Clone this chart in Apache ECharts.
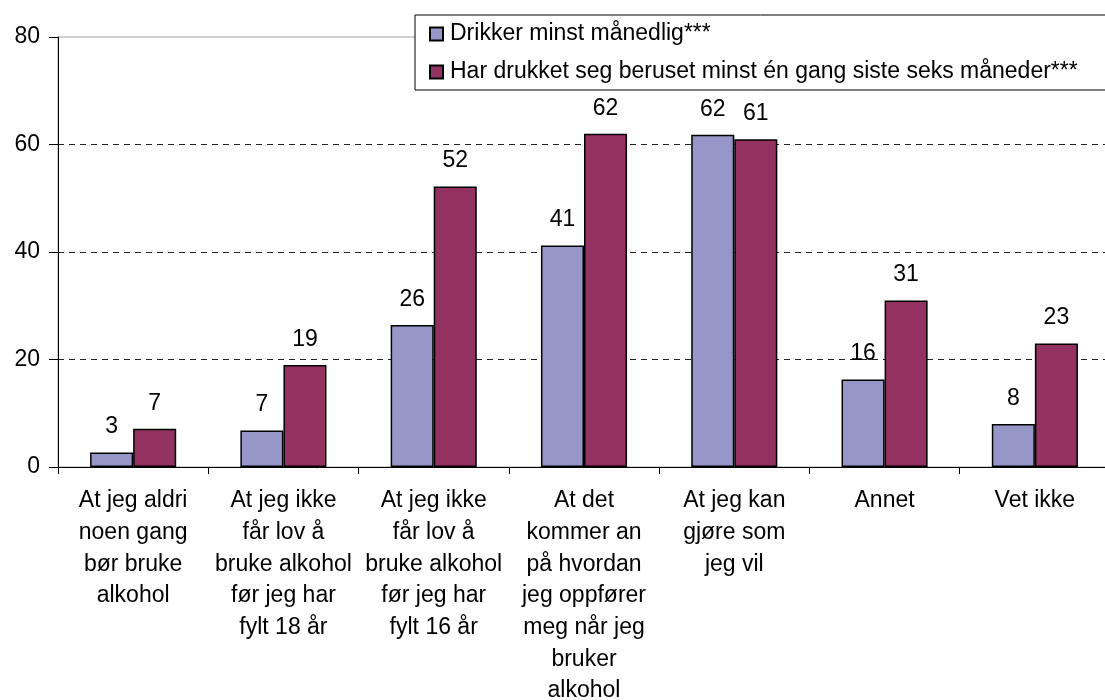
<!DOCTYPE html>
<html>
<head>
<meta charset="utf-8">
<script src="https://cdn.jsdelivr.net/npm/echarts@6/dist/echarts.min.js"></script>
<style>
html,body{margin:0;padding:0;background:#fff;}
#chart{width:1105px;height:700px;}
</style>
</head>
<body>
<div id="chart"></div>
<script>
const categories = [
  "At jeg aldri\nnoen gang\nbør bruke\nalkohol",
  "At jeg ikke\nfår lov å\nbruke alkohol\nfør jeg har\nfylt 18 år",
  "At jeg ikke\nfår lov å\nbruke alkohol\nfør jeg har\nfylt 16 år",
  "At det\nkommer an\npå hvordan\njeg oppfører\nmeg når jeg\nbruker\nalkohol",
  "At jeg kan\ngjøre som\njeg vil",
  "Annet",
  "Vet ikke"
];
const seriesNames = [
  "Drikker minst månedlig***",
  "Har drukket seg beruset minst én gang siste seks måneder***"
];
const monthly = [2.7, 6.8, 26.4, 41.2, 61.8, 16.3, 8.0];
const drunk = [7.1, 19.0, 52.2, 62.0, 61.0, 31.0, 23.0];
const yTicks = {min: 0, max: 80, interval: 20};

const FONT = "'Liberation Sans', Arial, sans-serif";
const FS = 23;
const chart = echarts.init(document.getElementById('chart'));
const labelCfg = {
  show: true, position: 'top', distance: 14,
  fontFamily: FONT, fontSize: FS, color: '#000',
  formatter: p => Math.round(p.value)
};
chart.setOption({
  animation: false,
  textStyle: {fontFamily: FONT},
  grid: {left: 58, right: -5, top: 37, bottom: 233, containLabel: false, outerBoundsMode: 'none',
         show: true, borderColor: '#a0a0a0', borderWidth: 1, backgroundColor: 'transparent'},
  legend: {
    orient: 'vertical', left: 415, top: 15,
    padding: [6, 60, 5, 14],
    itemWidth: 13, itemHeight: 13, itemGap: 12,
    backgroundColor: '#fff', borderColor: '#000', borderWidth: 1,
    textStyle: {fontFamily: FONT, fontSize: FS, color: '#000', lineHeight: 26, padding: [0,0,0,2]},
    data: seriesNames.map(n => ({name: n, icon: 'rect'}))
  },
  xAxis: {
    type: 'category', data: categories,
    axisLine: {lineStyle: {color: '#000', width: 1}},
    axisTick: {show: true, length: 7, lineStyle: {color: '#000'}, alignWithLabel: false},
    axisLabel: {interval: 0, margin: 18, fontFamily: FONT, fontSize: FS, lineHeight: 31.7, color: '#000', align: 'center'}
  },
  yAxis: {
    type: 'value', min: yTicks.min, max: yTicks.max, interval: yTicks.interval,
    axisLine: {show: true, lineStyle: {color: '#000', width: 1}},
    axisTick: {show: true, length: 9, lineStyle: {color: '#000'}},
    axisLabel: {margin: 18, fontFamily: FONT, fontSize: FS, color: '#000'},
    splitLine: {show: true, showMinLine: false, showMaxLine: false, lineStyle: {color: '#222', type: [6, 5], width: 1}}
  },
  series: [
    {
      name: seriesNames[0], type: 'bar', data: monthly,
      barGap: '0%', barCategoryGap: '42.7%',
      itemStyle: {color: '#9696C8', borderColor: '#000', borderWidth: 1.5},
      label: labelCfg
    },
    {
      name: seriesNames[1], type: 'bar', data: drunk,
      barGap: '0%', barCategoryGap: '42.7%',
      itemStyle: {color: '#933160', borderColor: '#000', borderWidth: 1.5},
      label: labelCfg
    }
  ]
});
</script>
</body>
</html>
